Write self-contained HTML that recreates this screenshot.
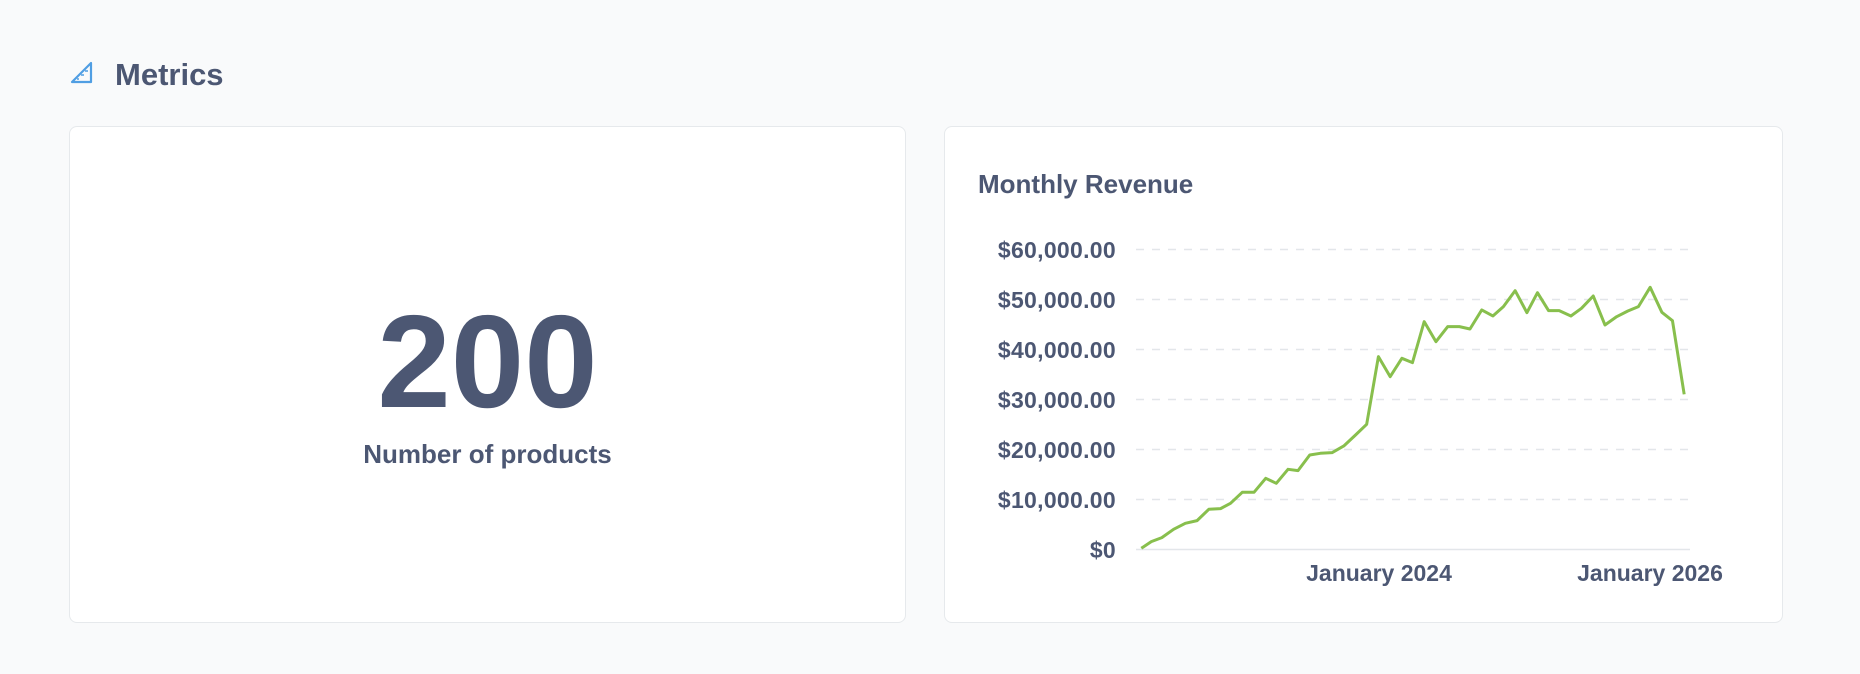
<!DOCTYPE html>
<html><head><meta charset="utf-8"><style>
body{margin:0;width:1860px;height:674px;background:#f9fafb;font-family:"Liberation Sans",sans-serif;color:#4c5773;position:relative;overflow:hidden}
.card{position:absolute;background:#fff;border:1px solid #e6e9ec;border-radius:8px;box-sizing:border-box}
.t{position:absolute;font-weight:bold;white-space:nowrap}
</style></head><body>
<svg style="position:absolute;left:70px;top:61px" width="24" height="24" viewBox="0 0 24 24"><path d="M21 2 L2 21 L21 21 Z" fill="none" stroke="#509ee3" stroke-width="2.2" stroke-linejoin="round"/><path d="M15 10 l3 0 M11 14 l3 0 M7 18 l2 0" stroke="#509ee3" stroke-width="1.5"/></svg>
<div class="t" style="left:115px;top:57px;font-size:31px">Metrics</div>
<div class="card" style="left:69px;top:126px;width:837px;height:497px"></div>
<div class="t" style="left:69px;width:837px;text-align:center;top:286px;font-size:132px;letter-spacing:0px">200</div>
<div class="t" style="left:69px;width:837px;text-align:center;top:439px;font-size:26px">Number of products</div>
<div class="card" style="left:944px;top:126px;width:839px;height:497px"></div>
<div class="t" style="left:978px;top:169px;font-size:26px">Monthly Revenue</div>
<svg style="position:absolute;left:0;top:0" width="1860" height="674">
<g stroke="#e3e6ea" stroke-width="1.5" stroke-dasharray="8,8">
<line x1="1136" x2="1688" y1="249.5" y2="249.5"/><line x1="1136" x2="1688" y1="299.5" y2="299.5"/><line x1="1136" x2="1688" y1="349.5" y2="349.5"/><line x1="1136" x2="1688" y1="399.5" y2="399.5"/><line x1="1136" x2="1688" y1="449.5" y2="449.5"/><line x1="1136" x2="1688" y1="499.5" y2="499.5"/>
</g>
<line x1="1136" x2="1690" y1="549.5" y2="549.5" stroke="#e3e6ea" stroke-width="1.5"/>
<g font-family="Liberation Sans, sans-serif" font-weight="bold" font-size="23" fill="#4c5773" text-anchor="end" letter-spacing="0.3">
<text x="1116" y="258">$60,000.00</text><text x="1116" y="308">$50,000.00</text><text x="1116" y="358">$40,000.00</text><text x="1116" y="408">$30,000.00</text><text x="1116" y="458">$20,000.00</text><text x="1116" y="508">$10,000.00</text><text x="1116" y="558">$0</text>
</g>
<g font-family="Liberation Sans, sans-serif" font-weight="bold" font-size="23" fill="#4c5773" text-anchor="middle">
<text x="1379" y="581">January 2024</text><text x="1650" y="581">January 2026</text>
</g>
<g transform="translate(940,150) scale(0.5869,0.3333)">
<polyline fill="none" stroke="#88bf4d" stroke-width="3" vector-effect="non-scaling-stroke" stroke-linejoin="round" points="343,1195 360,1175 378,1163 398,1138 418,1120 438,1112 458,1078 478,1076 495,1060 515,1027 535,1027 555,985 573,1000 593,958 610,962 630,915 648,910 668,908 688,888 708,855 727,823 747,620 767,680 787,625 805,638 825,515 845,575 865,530 885,530 903,537 923,480 942,498 960,470 980,422 1000,488 1018,428 1037,482 1055,482 1075,498 1093,475 1113,438 1133,525 1153,500 1172,483 1190,470 1210,412 1230,487 1248,512 1268,733"/>
</g>
</svg>
</body></html>
